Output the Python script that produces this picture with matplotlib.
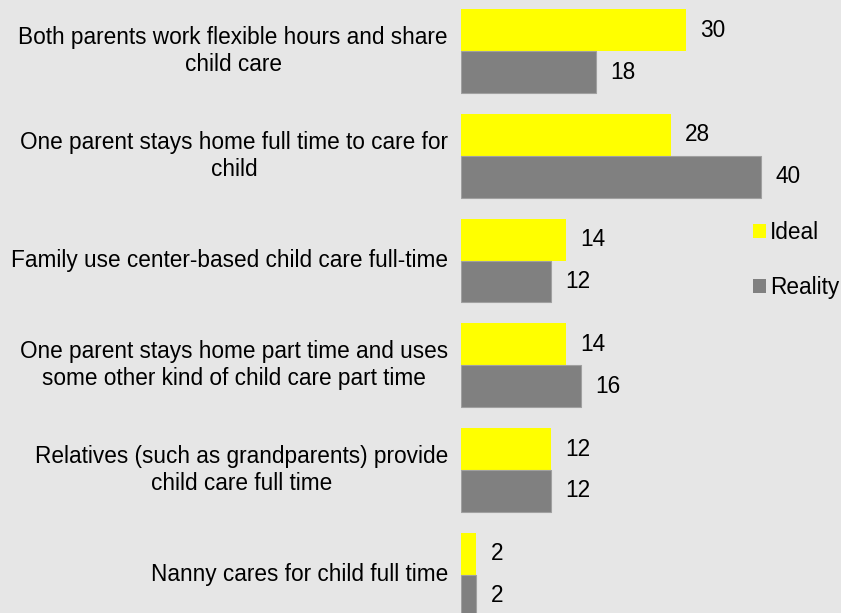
import matplotlib
matplotlib.use("Agg")
import matplotlib.pyplot as plt
import numpy as np

categories = [
    "Both parents work flexible hours and share\nchild care",
    "One parent stays home full time to care for\nchild",
    "Family use center-based child care full-time",
    "One parent stays home part time and uses\nsome other kind of child care part time",
    "Relatives (such as grandparents) provide\nchild care full time",
    "Nanny cares for child full time",
]
ideal = [30, 28, 14, 14, 12, 2]
reality = [18, 40, 12, 16, 12, 2]
series_names = ["Ideal", "Reality"]

BG = "#e6e6e6"
YELLOW = "#ffff00"
GRAY = "#808080"
FONT = "Liberation Sans"
FS = 16.3

fig = plt.figure(figsize=(8.41, 6.13), dpi=100, facecolor=BG)
W, H = 841, 613
x0 = 461.3
ax = fig.add_axes([x0 / W, 0, 1 - x0 / W, 1])
ax.set_facecolor(BG)

y = np.arange(len(categories))
h = 0.4
b1 = ax.barh(y - h / 2, ideal, height=h, color=YELLOW, edgecolor="none", label=series_names[0])
b2 = ax.barh(y + h / 2, reality, height=h, color=GRAY, edgecolor="#a0a0a0", linewidth=0.8,
             label=series_names[1])

px_per_unit = 7.48
ax.set_xlim(0, (W - x0) / px_per_unit)
ax.set_ylim(5.366, -0.489)

for bars, vals in ((b1, ideal), (b2, reality)):
    for rect, v in zip(bars, vals):
        ax.annotate(f"{v}", xy=(rect.get_width(), rect.get_y() + rect.get_height() / 2),
                    xytext=(10.5, 0), textcoords="offset points", ha="left", va="center",
                    fontsize=FS, family=FONT, color="black")

for yi, lab in zip(y, categories):
    ax.annotate(lab, xy=(0, yi), xytext=(448 - x0, 0), textcoords="offset pixels",
                ha="right", va="center", multialignment="center", fontsize=FS,
                family=FONT, linespacing=1.23, annotation_clip=False)

for s in ax.spines.values():
    s.set_visible(False)
ax.set_xticks([])
ax.set_yticks([])

leg = fig.legend(handles=[b1, b2], labels=series_names, loc="upper left",
                 bbox_to_anchor=(742 / W, 1 - 210 / H), frameon=False,
                 prop={"family": FONT, "size": FS}, handlelength=0.55, handleheight=0.55,
                 handletextpad=0.2, labelspacing=1.4, borderpad=0)
for hdl in leg.legend_handles:
    hdl.set_edgecolor("none")

fig.savefig("out.png", dpi=100, facecolor=BG)
